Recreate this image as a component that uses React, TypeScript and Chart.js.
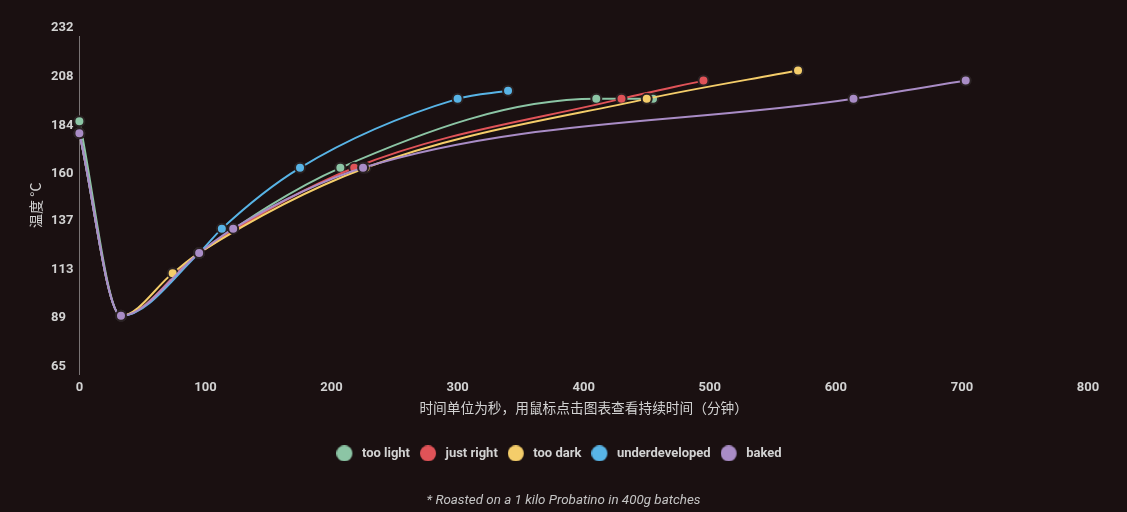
import React, { useEffect, useRef } from "react";
import Chart from "chart.js/auto";

// roast curves: time in seconds, temperature in °C
const tooLightTime = [0, 33, 95, 207, 410, 455];
const tooLightTemp = [190, 94, 125, 167, 201, 201];

const justRightTime = [0, 33, 95, 218, 430, 495];
const justRightTemp = [184, 94, 125, 167, 201, 210];

const tooDarkTime = [0, 33, 74, 95, 227, 450, 570];
const tooDarkTemp = [184, 94, 115, 125, 167, 201, 215];

const underTime = [0, 33, 95, 113, 175, 300, 340];
const underTemp = [184, 94, 125, 137, 167, 201, 205];

const bakedTime = [0, 33, 95, 122, 225, 614, 703];
const bakedTemp = [184, 94, 125, 137, 167, 201, 210];

const yTickValues = [65, 89, 113, 137, 160, 184, 208, 232];

const Y_TITLE = "温度 °C";
const SUBTITLE = "* Roasted on a 1 kilo Probatino in 400g batches";
const TEXT = "#d2d2d2";
const BG = "#1a1011";

const toPoints = (t: number[], v: number[]) => t.map((x, i) => ({ x, y: v[i] }));

// later series sit on top, like the original
const series = (label: string, color: string, t: number[], v: number[], order: number) => ({
  label,
  order,
  data: toPoints(t, v),
  borderColor: color,
  backgroundColor: color,
  borderWidth: 2,
  pointRadius: 5,
  pointBorderWidth: 2,
  pointBorderColor: "#2a2223",
  pointBackgroundColor: color,
  cubicInterpolationMode: "monotone" as const,
  clip: false as const,
});

// legend marker: 16px dot at the left of a 19px wide box
const legendDot = (color: string) => {
  const c = document.createElement("canvas");
  c.width = 19;
  c.height = 16;
  const g = c.getContext("2d")!;
  g.fillStyle = color;
  g.beginPath();
  g.arc(8, 8, 8, 0, Math.PI * 2);
  g.fill();
  return c;
};

// y title drawn by hand so the left-aligned tick labels don't run into it
const yTitlePlugin = {
  id: "yTitle",
  afterLayout(chart: any) {
    // the original centres legend and footnote a bit left of ours
    const shift = (box: any, dx: number) => {
      if (!box) return;
      box.left += dx;
      box.right += dx;
    };
    shift(chart.legend, -10.5);
    shift(
      chart.boxes.find((b: any) => b.options && b.options.text === SUBTITLE),
      -6
    );
  },
  afterDraw(chart: any) {
    const { ctx, chartArea } = chart;
    ctx.save();
    ctx.translate(36, (chartArea.top + chartArea.bottom) / 2);
    ctx.rotate(-Math.PI / 2);
    ctx.font = '14px "Noto Sans CJK SC"';
    ctx.fillStyle = TEXT;
    ctx.textAlign = "center";
    ctx.textBaseline = "middle";
    ctx.fillText(Y_TITLE, 0, 0);
    ctx.restore();
  },
};

const App = () => {
  const chartRef = useRef<HTMLCanvasElement>(null);

  useEffect(() => {
    document.body.style.margin = "0";
    document.body.style.background = BG;
    const ctx = chartRef.current!.getContext("2d")!;
    const myChart = new Chart(ctx, {
      type: "line",
      data: {
        datasets: [
          series("too light", "#8cc5a5", tooLightTime, tooLightTemp, 4),
          series("just right", "#e05358", justRightTime, justRightTemp, 3),
          series("too dark", "#f4cd6a", tooDarkTime, tooDarkTemp, 2),
          series("underdeveloped", "#58b4e6", underTime, underTemp, 1),
          series("baked", "#a98cc6", bakedTime, bakedTemp, 0),
        ],
      },
      plugins: [yTitlePlugin],
      options: {
        animation: false,
        responsive: false,
        layout: { padding: { left: 51, right: 39, top: 36, bottom: 0 } },
        scales: {
          x: {
            type: "linear",
            min: 0,
            max: 800,
            ticks: {
              stepSize: 100,
              color: TEXT,
              padding: 5,
              font: { family: "Roboto", size: 13, weight: "bold" },
            },
            grid: { display: false, drawTicks: false },
            border: { display: false },
            title: {
              display: true,
              text: "时间单位为秒，用鼠标点击图表查看持续时间（分钟）",
              color: TEXT,
              font: { family: "Noto Sans CJK SC", size: 13.7, lineHeight: 1 },
              padding: { top: 1, bottom: 22 },
            },
          },
          y: {
            type: "linear",
            min: 65,
            max: 232,
            afterBuildTicks: (axis: any) => {
              axis.ticks = yTickValues.map((value) => ({ value }));
            },
            ticks: {
              color: TEXT,
              padding: 3,
              crossAlign: "far",
              labelOffset: -8,
              font: { family: "Roboto", size: 13, weight: "bold" },
            },
            grid: { display: false, drawTicks: false },
            border: { display: true, color: "#7a7475", width: 1 },
          },
        },
        plugins: {
          legend: {
            position: "bottom",
            labels: {
              color: TEXT,
              usePointStyle: true,
              pointStyleWidth: 19,
              boxHeight: 16,
              padding: 10,
              font: { family: "Roboto", size: 13, weight: "bold" },
              sort: (a: any, b: any) => a.datasetIndex - b.datasetIndex,
              generateLabels: (chart: any) =>
                Chart.defaults.plugins.legend.labels
                  .generateLabels(chart)
                  .map((item: any) => ({
                    ...item,
                    pointStyle: legendDot(item.fillStyle as string),
                  })),
            },
          },
          subtitle: {
            display: true,
            position: "bottom",
            text: SUBTITLE,
            color: "#c4c4c4",
            font: { family: "Roboto", size: 13.4, style: "italic" },
            padding: { top: 23, bottom: 3 },
          },
          tooltip: { enabled: false },
        },
      },
    });

    return () => {
      myChart.destroy();
    };
  }, []);

  return (
    <div style={{ width: 1127, height: 512, background: BG }}>
      <canvas ref={chartRef} width={1127} height={512}></canvas>
    </div>
  );
};

export default App;
